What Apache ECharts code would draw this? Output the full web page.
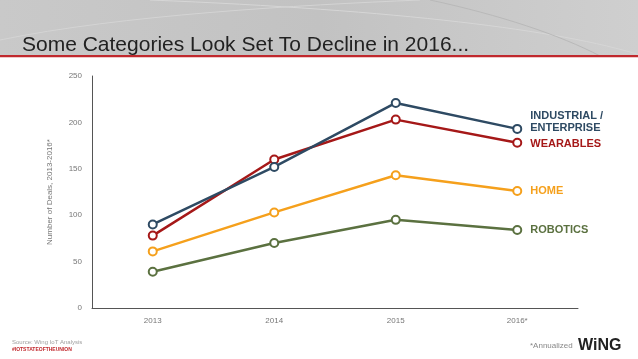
<!DOCTYPE html>
<html>
<head>
<meta charset="utf-8">
<script src="https://cdn.jsdelivr.net/npm/echarts@6/dist/echarts.min.js"></script>
<style>html,body{margin:0;padding:0;background:#fff}#c{width:638px;height:359px}</style>
</head>
<body>
<div id="c"></div>
<script>
var categories = ['2013', '2014', '2015', '2016*'];
var industrial = [90, 152, 221, 193];
var wearables = [78, 160, 203, 178];
var home = [61, 103, 143, 126];
var robotics = [39, 70, 95, 84];
var yTicks = [0, 50, 100, 150, 200, 250];

var chart = echarts.init(document.getElementById('c'), null, {renderer: 'canvas'});

function mk(name, label, data, color, offsetY) {
  return {
    name: name,
    type: 'line',
    data: data,
    symbol: 'circle',
    symbolSize: 8,
    lineStyle: {color: color, width: 2.5},
    itemStyle: {color: '#fff', borderColor: color, borderWidth: 2},
    label: {
      show: true,
      position: 'right',
      distance: 8,
      offset: [0, offsetY],
      formatter: function (p) { return p.dataIndex === data.length - 1 ? label : ''; },
      color: color,
      fontFamily: 'Liberation Sans',
      fontWeight: 'bold',
      fontSize: 11,
      lineHeight: 12
    },
    z: 3
  };
}

var option = {
  backgroundColor: '#ffffff',
  animation: false,
  title: {
    text: 'Some Categories Look Set To Decline in 2016...',
    left: 17,
    top: 30,
    textStyle: {fontFamily: 'Liberation Sans', fontSize: 21, fontWeight: 'normal', color: '#222'}
  },
  graphic: [
    {type: 'rect', z: -10, shape: {x: 0, y: 0, width: 638, height: 56},
      style: {fill: new echarts.graphic.LinearGradient(0, 0, 1, 0, [
        {offset: 0, color: '#c9c9c9'}, {offset: 0.5, color: '#c2c2c2'}, {offset: 1, color: '#cfcfcf'}])}},
    {type: 'bezierCurve', z: -9, shape: {x1: 150, y1: 0, x2: 640, y2: 55, cpx1: 400, cpy1: 10, cpx2: 560, cpy2: 30},
      style: {stroke: '#d6d6d6', lineWidth: 1, fill: null}},
    {type: 'bezierCurve', z: -9, shape: {x1: 0, y1: 40, x2: 420, y2: 0, cpx1: 120, cpy1: 15, cpx2: 300, cpy2: 5},
      style: {stroke: '#d4d4d4', lineWidth: 1, fill: null}},
    {type: 'bezierCurve', z: -9, shape: {x1: 430, y1: 0, x2: 600, y2: 56, cpx1: 500, cpy1: 15, cpx2: 560, cpy2: 35},
      style: {stroke: '#b9b9b9', lineWidth: 1, fill: null}},
    {type: 'rect', z: -8, shape: {x: 0, y: 55, width: 638, height: 2}, style: {fill: '#c0282d'}},
    {type: 'rect', z: -8, shape: {x: 0, y: 57, width: 638, height: 1}, style: {fill: '#f0c8c8'}},
    {type: 'text', left: 12, top: 339, style: {text: 'Source: Wing IoT Analysis', fill: '#a0a0a0', font: '6px Liberation Sans'}},
    {type: 'text', left: 12, top: 347, style: {text: '#IOTSTATEOFTHEUNION', fill: '#c0282d', font: 'bold 5px Liberation Sans'}},
    {type: 'text', left: 530, top: 342, style: {text: '*Annualized', fill: '#888', font: '8px Liberation Sans'}},
    {type: 'text', left: 578, top: 338, style: {text: 'WiNG', fill: '#222', font: 'bold 16px Liberation Sans'}}
  ],
  grid: {left: 92, right: 60, top: 76, bottom: 51, containLabel: false},
  xAxis: {
    type: 'category',
    data: categories,
    boundaryGap: true,
    axisLine: {lineStyle: {color: '#555', width: 1}},
    axisTick: {show: false},
    axisLabel: {color: '#777', fontSize: 8, fontFamily: 'Liberation Sans', margin: 9}
  },
  yAxis: {
    type: 'value',
    min: yTicks[0],
    max: yTicks[yTicks.length - 1],
    interval: 50,
    name: 'Number of Deals, 2013-2016*',
    nameLocation: 'middle',
    nameGap: 38,
    nameTextStyle: {color: '#777', fontSize: 8, fontFamily: 'Liberation Sans'},
    axisLine: {show: true, lineStyle: {color: '#555', width: 1}},
    axisTick: {show: false},
    splitLine: {show: false},
    axisLabel: {color: '#777', fontSize: 8, fontFamily: 'Liberation Sans', margin: 10}
  },
  series: [
    mk('Robotics', 'ROBOTICS', robotics, '#5b7140', 0),
    mk('Home', 'HOME', home, '#f5a01c', 0),
    mk('Wearables', 'WEARABLES', wearables, '#a51818', 1),
    mk('Industrial / Enterprise', 'INDUSTRIAL /\nENTERPRISE', industrial, '#2e4a63', -7)
  ]
};
chart.setOption(option);
</script>
</body>
</html>
